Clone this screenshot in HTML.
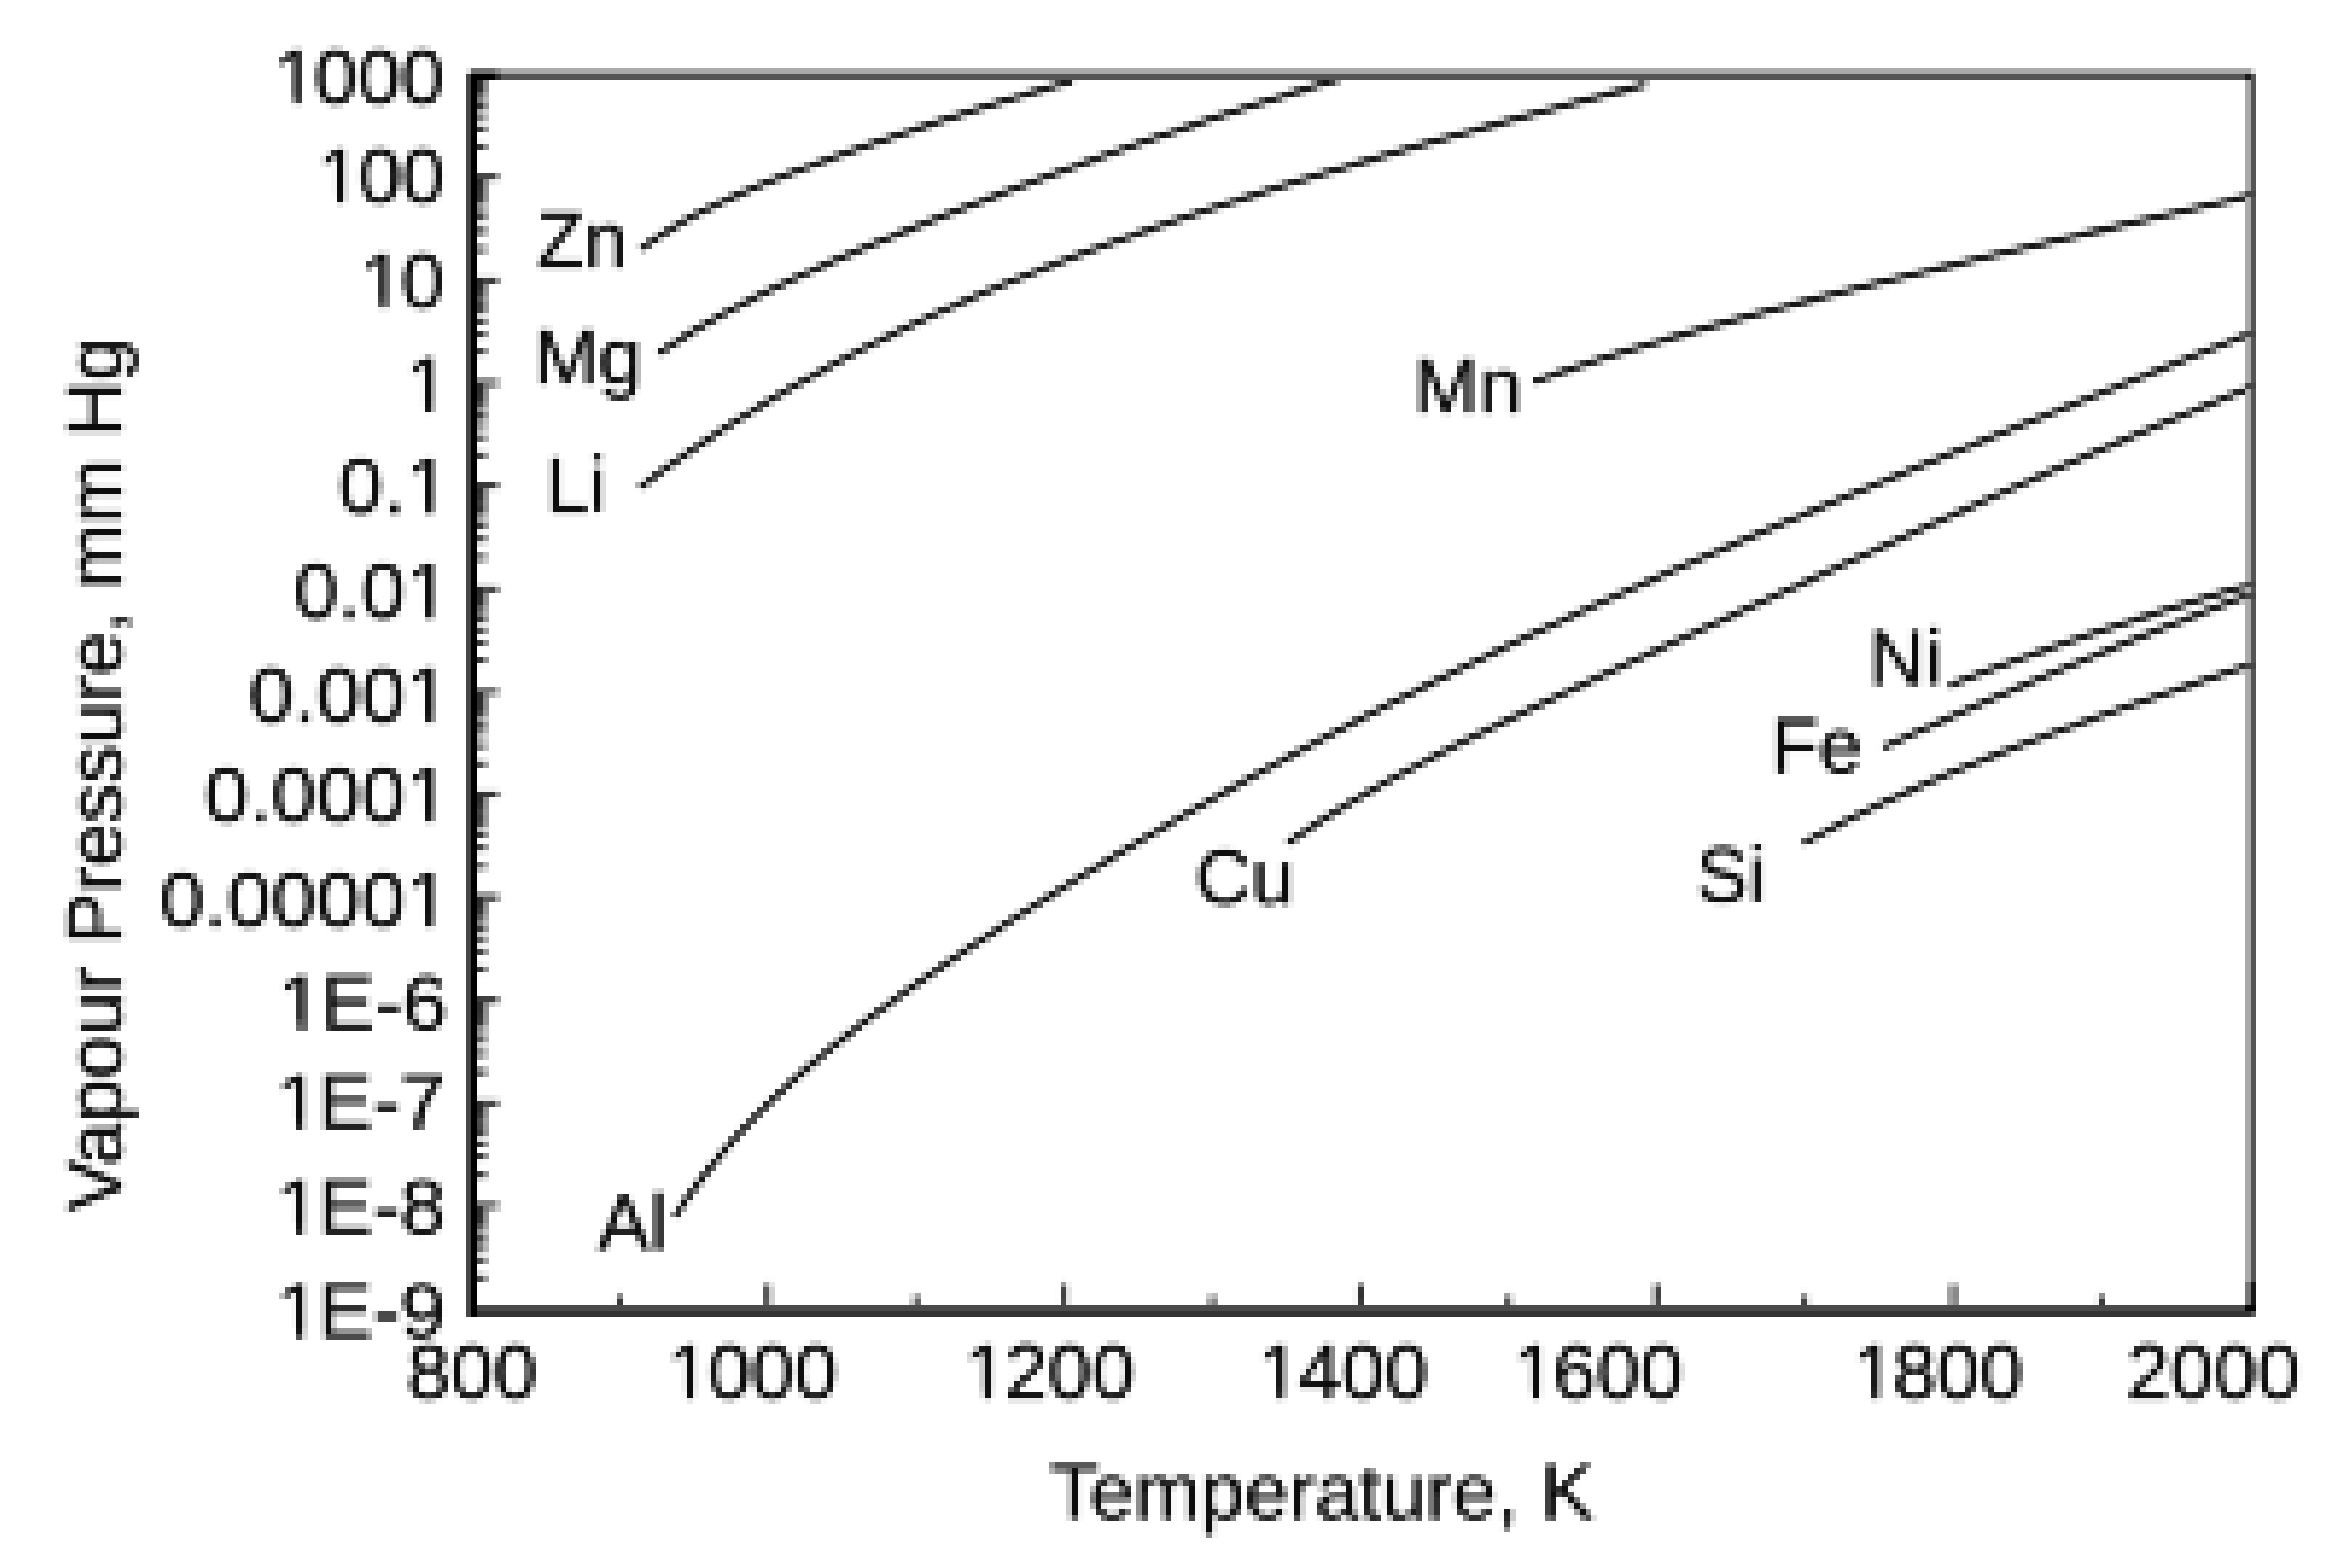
<!DOCTYPE html>
<html><head><meta charset="utf-8"><title>Vapour pressure chart</title>
<style>html,body{margin:0;padding:0;background:#fff}svg{display:block}</style></head>
<body>
<svg width="2332" height="1568" viewBox="0 0 2332 1568">
<defs><clipPath id="c1s"><path clip-rule="evenodd" d="M-2000,-400H2000V400H-2000ZM3.80,-8.56H19.79V1.90H3.80ZM26.73,-8.56H41.85V1.90H26.73Z"/></clipPath><clipPath id="c1e"><path clip-rule="evenodd" d="M-2000,-400H2000V400H-2000ZM-39.58,-8.56H-23.60V1.90H-39.58ZM-16.66,-8.56H-1.53V1.90H-16.66Z"/></clipPath></defs>
<defs><filter id="soft" x="-24" y="-13" width="2364" height="1589" filterUnits="userSpaceOnUse" color-interpolation-filters="sRGB"><feGaussianBlur in="SourceGraphic" stdDeviation="1.65" result="b"/><feOffset in="b" dx="2" dy="2" result="bo"/><feFlood x="-24" y="-13" width="1" height="35" flood-color="rgb(213,0,0)" result="c0"/><feFlood x="-24" y="-13" width="35" height="1" flood-color="rgb(0,213,0)" result="r0"/><feFlood x="-23" y="-13" width="1" height="35" flood-color="rgb(192,0,0)" result="c1"/><feFlood x="-24" y="-12" width="35" height="1" flood-color="rgb(0,192,0)" result="r1"/><feFlood x="-22" y="-13" width="1" height="35" flood-color="rgb(171,0,0)" result="c2"/><feFlood x="-24" y="-11" width="35" height="1" flood-color="rgb(0,171,0)" result="r2"/><feFlood x="-21" y="-13" width="1" height="35" flood-color="rgb(149,0,0)" result="c3"/><feFlood x="-24" y="-10" width="35" height="1" flood-color="rgb(0,149,0)" result="r3"/><feFlood x="-20" y="-13" width="1" height="35" flood-color="rgb(128,0,0)" result="c4"/><feFlood x="-24" y="-9" width="35" height="1" flood-color="rgb(0,128,0)" result="r4"/><feFlood x="-19" y="-13" width="1" height="35" flood-color="rgb(234,0,0)" result="c5"/><feFlood x="-24" y="-8" width="35" height="1" flood-color="rgb(0,234,0)" result="r5"/><feFlood x="-18" y="-13" width="1" height="35" flood-color="rgb(213,0,0)" result="c6"/><feFlood x="-24" y="-7" width="35" height="1" flood-color="rgb(0,213,0)" result="r6"/><feFlood x="-17" y="-13" width="1" height="35" flood-color="rgb(192,0,0)" result="c7"/><feFlood x="-24" y="-6" width="35" height="1" flood-color="rgb(0,192,0)" result="r7"/><feFlood x="-16" y="-13" width="1" height="35" flood-color="rgb(171,0,0)" result="c8"/><feFlood x="-24" y="-5" width="35" height="1" flood-color="rgb(0,171,0)" result="r8"/><feFlood x="-15" y="-13" width="1" height="35" flood-color="rgb(149,0,0)" result="c9"/><feFlood x="-24" y="-4" width="35" height="1" flood-color="rgb(0,149,0)" result="r9"/><feFlood x="-14" y="-13" width="1" height="35" flood-color="rgb(128,0,0)" result="c10"/><feFlood x="-24" y="-3" width="35" height="1" flood-color="rgb(0,128,0)" result="r10"/><feFlood x="-13" y="-13" width="1" height="35" flood-color="rgb(234,0,0)" result="c11"/><feFlood x="-24" y="-2" width="35" height="1" flood-color="rgb(0,234,0)" result="r11"/><feFlood x="-12" y="-13" width="1" height="35" flood-color="rgb(213,0,0)" result="c12"/><feFlood x="-24" y="-1" width="35" height="1" flood-color="rgb(0,213,0)" result="r12"/><feFlood x="-11" y="-13" width="1" height="35" flood-color="rgb(192,0,0)" result="c13"/><feFlood x="-24" y="0" width="35" height="1" flood-color="rgb(0,192,0)" result="r13"/><feFlood x="-10" y="-13" width="1" height="35" flood-color="rgb(171,0,0)" result="c14"/><feFlood x="-24" y="1" width="35" height="1" flood-color="rgb(0,171,0)" result="r14"/><feFlood x="-9" y="-13" width="1" height="35" flood-color="rgb(149,0,0)" result="c15"/><feFlood x="-24" y="2" width="35" height="1" flood-color="rgb(0,149,0)" result="r15"/><feFlood x="-8" y="-13" width="1" height="35" flood-color="rgb(128,0,0)" result="c16"/><feFlood x="-24" y="3" width="35" height="1" flood-color="rgb(0,128,0)" result="r16"/><feFlood x="-7" y="-13" width="1" height="35" flood-color="rgb(234,0,0)" result="c17"/><feFlood x="-24" y="4" width="35" height="1" flood-color="rgb(0,234,0)" result="r17"/><feFlood x="-6" y="-13" width="1" height="35" flood-color="rgb(213,0,0)" result="c18"/><feFlood x="-24" y="5" width="35" height="1" flood-color="rgb(0,213,0)" result="r18"/><feFlood x="-5" y="-13" width="1" height="35" flood-color="rgb(192,0,0)" result="c19"/><feFlood x="-24" y="6" width="35" height="1" flood-color="rgb(0,192,0)" result="r19"/><feFlood x="-4" y="-13" width="1" height="35" flood-color="rgb(171,0,0)" result="c20"/><feFlood x="-24" y="7" width="35" height="1" flood-color="rgb(0,171,0)" result="r20"/><feFlood x="-3" y="-13" width="1" height="35" flood-color="rgb(149,0,0)" result="c21"/><feFlood x="-24" y="8" width="35" height="1" flood-color="rgb(0,149,0)" result="r21"/><feFlood x="-2" y="-13" width="1" height="35" flood-color="rgb(128,0,0)" result="c22"/><feFlood x="-24" y="9" width="35" height="1" flood-color="rgb(0,128,0)" result="r22"/><feFlood x="-1" y="-13" width="1" height="35" flood-color="rgb(234,0,0)" result="c23"/><feFlood x="-24" y="10" width="35" height="1" flood-color="rgb(0,234,0)" result="r23"/><feFlood x="0" y="-13" width="1" height="35" flood-color="rgb(213,0,0)" result="c24"/><feFlood x="-24" y="11" width="35" height="1" flood-color="rgb(0,213,0)" result="r24"/><feFlood x="1" y="-13" width="1" height="35" flood-color="rgb(192,0,0)" result="c25"/><feFlood x="-24" y="12" width="35" height="1" flood-color="rgb(0,192,0)" result="r25"/><feFlood x="2" y="-13" width="1" height="35" flood-color="rgb(171,0,0)" result="c26"/><feFlood x="-24" y="13" width="35" height="1" flood-color="rgb(0,171,0)" result="r26"/><feFlood x="3" y="-13" width="1" height="35" flood-color="rgb(149,0,0)" result="c27"/><feFlood x="-24" y="14" width="35" height="1" flood-color="rgb(0,149,0)" result="r27"/><feFlood x="4" y="-13" width="1" height="35" flood-color="rgb(128,0,0)" result="c28"/><feFlood x="-24" y="15" width="35" height="1" flood-color="rgb(0,128,0)" result="r28"/><feFlood x="5" y="-13" width="1" height="35" flood-color="rgb(234,0,0)" result="c29"/><feFlood x="-24" y="16" width="35" height="1" flood-color="rgb(0,234,0)" result="r29"/><feFlood x="6" y="-13" width="1" height="35" flood-color="rgb(213,0,0)" result="c30"/><feFlood x="-24" y="17" width="35" height="1" flood-color="rgb(0,213,0)" result="r30"/><feFlood x="7" y="-13" width="1" height="35" flood-color="rgb(192,0,0)" result="c31"/><feFlood x="-24" y="18" width="35" height="1" flood-color="rgb(0,192,0)" result="r31"/><feFlood x="8" y="-13" width="1" height="35" flood-color="rgb(171,0,0)" result="c32"/><feFlood x="-24" y="19" width="35" height="1" flood-color="rgb(0,171,0)" result="r32"/><feFlood x="9" y="-13" width="1" height="35" flood-color="rgb(149,0,0)" result="c33"/><feFlood x="-24" y="20" width="35" height="1" flood-color="rgb(0,149,0)" result="r33"/><feFlood x="10" y="-13" width="1" height="35" flood-color="rgb(128,0,0)" result="c34"/><feFlood x="-24" y="21" width="35" height="1" flood-color="rgb(0,128,0)" result="r34"/><feMerge x="-24" y="-13" width="35" height="35" result="ct"><feMergeNode in="c0"/><feMergeNode in="c1"/><feMergeNode in="c2"/><feMergeNode in="c3"/><feMergeNode in="c4"/><feMergeNode in="c5"/><feMergeNode in="c6"/><feMergeNode in="c7"/><feMergeNode in="c8"/><feMergeNode in="c9"/><feMergeNode in="c10"/><feMergeNode in="c11"/><feMergeNode in="c12"/><feMergeNode in="c13"/><feMergeNode in="c14"/><feMergeNode in="c15"/><feMergeNode in="c16"/><feMergeNode in="c17"/><feMergeNode in="c18"/><feMergeNode in="c19"/><feMergeNode in="c20"/><feMergeNode in="c21"/><feMergeNode in="c22"/><feMergeNode in="c23"/><feMergeNode in="c24"/><feMergeNode in="c25"/><feMergeNode in="c26"/><feMergeNode in="c27"/><feMergeNode in="c28"/><feMergeNode in="c29"/><feMergeNode in="c30"/><feMergeNode in="c31"/><feMergeNode in="c32"/><feMergeNode in="c33"/><feMergeNode in="c34"/></feMerge><feMerge x="-24" y="-13" width="35" height="35" result="rt"><feMergeNode in="r0"/><feMergeNode in="r1"/><feMergeNode in="r2"/><feMergeNode in="r3"/><feMergeNode in="r4"/><feMergeNode in="r5"/><feMergeNode in="r6"/><feMergeNode in="r7"/><feMergeNode in="r8"/><feMergeNode in="r9"/><feMergeNode in="r10"/><feMergeNode in="r11"/><feMergeNode in="r12"/><feMergeNode in="r13"/><feMergeNode in="r14"/><feMergeNode in="r15"/><feMergeNode in="r16"/><feMergeNode in="r17"/><feMergeNode in="r18"/><feMergeNode in="r19"/><feMergeNode in="r20"/><feMergeNode in="r21"/><feMergeNode in="r22"/><feMergeNode in="r23"/><feMergeNode in="r24"/><feMergeNode in="r25"/><feMergeNode in="r26"/><feMergeNode in="r27"/><feMergeNode in="r28"/><feMergeNode in="r29"/><feMergeNode in="r30"/><feMergeNode in="r31"/><feMergeNode in="r32"/><feMergeNode in="r33"/><feMergeNode in="r34"/></feMerge><feComposite in="ct" in2="rt" operator="arithmetic" k1="0" k2="1" k3="1" k4="0" x="-24" y="-13" width="35" height="35" result="t"/><feTile in="t" result="map"/><feDisplacementMap in="bo" in2="map" scale="12" xChannelSelector="R" yChannelSelector="G"/></filter></defs>
<g filter="url(#soft)">
<rect width="100%" height="100%" fill="#fff"/>
<g id="plot">
<rect x="477.0" y="143.9" width="6" height="6" fill="#2a2a2a"/>
<rect x="483.0" y="143.9" width="6" height="6" fill="#8a8a8a"/>
<rect x="477.0" y="125.8" width="6" height="6" fill="#2a2a2a"/>
<rect x="483.0" y="125.8" width="6" height="6" fill="#8a8a8a"/>
<rect x="477.0" y="112.9" width="6" height="6" fill="#2a2a2a"/>
<rect x="483.0" y="112.9" width="6" height="6" fill="#8a8a8a"/>
<rect x="477.0" y="103.0" width="6" height="6" fill="#2a2a2a"/>
<rect x="483.0" y="103.0" width="6" height="6" fill="#8a8a8a"/>
<rect x="477.0" y="94.8" width="6" height="6" fill="#2a2a2a"/>
<rect x="483.0" y="94.8" width="6" height="6" fill="#8a8a8a"/>
<rect x="477.0" y="87.9" width="6" height="6" fill="#2a2a2a"/>
<rect x="483.0" y="87.9" width="6" height="6" fill="#8a8a8a"/>
<rect x="477.0" y="82.0" width="6" height="6" fill="#2a2a2a"/>
<rect x="483.0" y="82.0" width="6" height="6" fill="#8a8a8a"/>
<rect x="477.0" y="76.7" width="6" height="6" fill="#2a2a2a"/>
<rect x="483.0" y="76.7" width="6" height="6" fill="#8a8a8a"/>
<rect x="477.0" y="174.8" width="18" height="6" fill="#2a2a2a"/>
<rect x="495.0" y="174.8" width="6" height="6" fill="#8a8a8a"/>
<rect x="477.0" y="246.7" width="6" height="6" fill="#2a2a2a"/>
<rect x="483.0" y="246.7" width="6" height="6" fill="#8a8a8a"/>
<rect x="477.0" y="228.6" width="6" height="6" fill="#2a2a2a"/>
<rect x="483.0" y="228.6" width="6" height="6" fill="#8a8a8a"/>
<rect x="477.0" y="215.8" width="6" height="6" fill="#2a2a2a"/>
<rect x="483.0" y="215.8" width="6" height="6" fill="#8a8a8a"/>
<rect x="477.0" y="205.8" width="6" height="6" fill="#2a2a2a"/>
<rect x="483.0" y="205.8" width="6" height="6" fill="#8a8a8a"/>
<rect x="477.0" y="197.6" width="6" height="6" fill="#2a2a2a"/>
<rect x="483.0" y="197.6" width="6" height="6" fill="#8a8a8a"/>
<rect x="477.0" y="190.8" width="6" height="6" fill="#2a2a2a"/>
<rect x="483.0" y="190.8" width="6" height="6" fill="#8a8a8a"/>
<rect x="477.0" y="184.8" width="6" height="6" fill="#2a2a2a"/>
<rect x="483.0" y="184.8" width="6" height="6" fill="#8a8a8a"/>
<rect x="477.0" y="179.5" width="6" height="6" fill="#2a2a2a"/>
<rect x="483.0" y="179.5" width="6" height="6" fill="#8a8a8a"/>
<rect x="477.0" y="277.7" width="18" height="6" fill="#2a2a2a"/>
<rect x="495.0" y="277.7" width="6" height="6" fill="#8a8a8a"/>
<rect x="477.0" y="349.5" width="6" height="6" fill="#2a2a2a"/>
<rect x="483.0" y="349.5" width="6" height="6" fill="#8a8a8a"/>
<rect x="477.0" y="331.4" width="6" height="6" fill="#2a2a2a"/>
<rect x="483.0" y="331.4" width="6" height="6" fill="#8a8a8a"/>
<rect x="477.0" y="318.6" width="6" height="6" fill="#2a2a2a"/>
<rect x="483.0" y="318.6" width="6" height="6" fill="#8a8a8a"/>
<rect x="477.0" y="308.6" width="6" height="6" fill="#2a2a2a"/>
<rect x="483.0" y="308.6" width="6" height="6" fill="#8a8a8a"/>
<rect x="477.0" y="300.5" width="6" height="6" fill="#2a2a2a"/>
<rect x="483.0" y="300.5" width="6" height="6" fill="#8a8a8a"/>
<rect x="477.0" y="293.6" width="6" height="6" fill="#2a2a2a"/>
<rect x="483.0" y="293.6" width="6" height="6" fill="#8a8a8a"/>
<rect x="477.0" y="287.6" width="6" height="6" fill="#2a2a2a"/>
<rect x="483.0" y="287.6" width="6" height="6" fill="#8a8a8a"/>
<rect x="477.0" y="282.4" width="6" height="6" fill="#2a2a2a"/>
<rect x="483.0" y="282.4" width="6" height="6" fill="#8a8a8a"/>
<rect x="477.0" y="380.5" width="18" height="6" fill="#2a2a2a"/>
<rect x="495.0" y="380.5" width="6" height="6" fill="#8a8a8a"/>
<rect x="477.0" y="452.4" width="6" height="6" fill="#2a2a2a"/>
<rect x="483.0" y="452.4" width="6" height="6" fill="#8a8a8a"/>
<rect x="477.0" y="434.3" width="6" height="6" fill="#2a2a2a"/>
<rect x="483.0" y="434.3" width="6" height="6" fill="#8a8a8a"/>
<rect x="477.0" y="421.4" width="6" height="6" fill="#2a2a2a"/>
<rect x="483.0" y="421.4" width="6" height="6" fill="#8a8a8a"/>
<rect x="477.0" y="411.5" width="6" height="6" fill="#2a2a2a"/>
<rect x="483.0" y="411.5" width="6" height="6" fill="#8a8a8a"/>
<rect x="477.0" y="403.3" width="6" height="6" fill="#2a2a2a"/>
<rect x="483.0" y="403.3" width="6" height="6" fill="#8a8a8a"/>
<rect x="477.0" y="396.4" width="6" height="6" fill="#2a2a2a"/>
<rect x="483.0" y="396.4" width="6" height="6" fill="#8a8a8a"/>
<rect x="477.0" y="390.5" width="6" height="6" fill="#2a2a2a"/>
<rect x="483.0" y="390.5" width="6" height="6" fill="#8a8a8a"/>
<rect x="477.0" y="385.2" width="6" height="6" fill="#2a2a2a"/>
<rect x="483.0" y="385.2" width="6" height="6" fill="#8a8a8a"/>
<rect x="477.0" y="483.3" width="18" height="6" fill="#2a2a2a"/>
<rect x="495.0" y="483.3" width="6" height="6" fill="#8a8a8a"/>
<rect x="477.0" y="555.2" width="6" height="6" fill="#2a2a2a"/>
<rect x="483.0" y="555.2" width="6" height="6" fill="#8a8a8a"/>
<rect x="477.0" y="537.1" width="6" height="6" fill="#2a2a2a"/>
<rect x="483.0" y="537.1" width="6" height="6" fill="#8a8a8a"/>
<rect x="477.0" y="524.3" width="6" height="6" fill="#2a2a2a"/>
<rect x="483.0" y="524.3" width="6" height="6" fill="#8a8a8a"/>
<rect x="477.0" y="514.3" width="6" height="6" fill="#2a2a2a"/>
<rect x="483.0" y="514.3" width="6" height="6" fill="#8a8a8a"/>
<rect x="477.0" y="506.1" width="6" height="6" fill="#2a2a2a"/>
<rect x="483.0" y="506.1" width="6" height="6" fill="#8a8a8a"/>
<rect x="477.0" y="499.3" width="6" height="6" fill="#2a2a2a"/>
<rect x="483.0" y="499.3" width="6" height="6" fill="#8a8a8a"/>
<rect x="477.0" y="493.3" width="6" height="6" fill="#2a2a2a"/>
<rect x="483.0" y="493.3" width="6" height="6" fill="#8a8a8a"/>
<rect x="477.0" y="488.0" width="6" height="6" fill="#2a2a2a"/>
<rect x="483.0" y="488.0" width="6" height="6" fill="#8a8a8a"/>
<rect x="477.0" y="586.2" width="18" height="6" fill="#2a2a2a"/>
<rect x="495.0" y="586.2" width="6" height="6" fill="#8a8a8a"/>
<rect x="477.0" y="658.0" width="6" height="6" fill="#2a2a2a"/>
<rect x="483.0" y="658.0" width="6" height="6" fill="#8a8a8a"/>
<rect x="477.0" y="639.9" width="6" height="6" fill="#2a2a2a"/>
<rect x="483.0" y="639.9" width="6" height="6" fill="#8a8a8a"/>
<rect x="477.0" y="627.1" width="6" height="6" fill="#2a2a2a"/>
<rect x="483.0" y="627.1" width="6" height="6" fill="#8a8a8a"/>
<rect x="477.0" y="617.1" width="6" height="6" fill="#2a2a2a"/>
<rect x="483.0" y="617.1" width="6" height="6" fill="#8a8a8a"/>
<rect x="477.0" y="609.0" width="6" height="6" fill="#2a2a2a"/>
<rect x="483.0" y="609.0" width="6" height="6" fill="#8a8a8a"/>
<rect x="477.0" y="602.1" width="6" height="6" fill="#2a2a2a"/>
<rect x="483.0" y="602.1" width="6" height="6" fill="#8a8a8a"/>
<rect x="477.0" y="596.1" width="6" height="6" fill="#2a2a2a"/>
<rect x="483.0" y="596.1" width="6" height="6" fill="#8a8a8a"/>
<rect x="477.0" y="590.9" width="6" height="6" fill="#2a2a2a"/>
<rect x="483.0" y="590.9" width="6" height="6" fill="#8a8a8a"/>
<rect x="477.0" y="689.0" width="18" height="6" fill="#2a2a2a"/>
<rect x="495.0" y="689.0" width="6" height="6" fill="#8a8a8a"/>
<rect x="477.0" y="760.9" width="6" height="6" fill="#2a2a2a"/>
<rect x="483.0" y="760.9" width="6" height="6" fill="#8a8a8a"/>
<rect x="477.0" y="742.8" width="6" height="6" fill="#2a2a2a"/>
<rect x="483.0" y="742.8" width="6" height="6" fill="#8a8a8a"/>
<rect x="477.0" y="729.9" width="6" height="6" fill="#2a2a2a"/>
<rect x="483.0" y="729.9" width="6" height="6" fill="#8a8a8a"/>
<rect x="477.0" y="720.0" width="6" height="6" fill="#2a2a2a"/>
<rect x="483.0" y="720.0" width="6" height="6" fill="#8a8a8a"/>
<rect x="477.0" y="711.8" width="6" height="6" fill="#2a2a2a"/>
<rect x="483.0" y="711.8" width="6" height="6" fill="#8a8a8a"/>
<rect x="477.0" y="704.9" width="6" height="6" fill="#2a2a2a"/>
<rect x="483.0" y="704.9" width="6" height="6" fill="#8a8a8a"/>
<rect x="477.0" y="699.0" width="6" height="6" fill="#2a2a2a"/>
<rect x="483.0" y="699.0" width="6" height="6" fill="#8a8a8a"/>
<rect x="477.0" y="693.7" width="6" height="6" fill="#2a2a2a"/>
<rect x="483.0" y="693.7" width="6" height="6" fill="#8a8a8a"/>
<rect x="477.0" y="791.8" width="18" height="6" fill="#2a2a2a"/>
<rect x="495.0" y="791.8" width="6" height="6" fill="#8a8a8a"/>
<rect x="477.0" y="863.7" width="6" height="6" fill="#2a2a2a"/>
<rect x="483.0" y="863.7" width="6" height="6" fill="#8a8a8a"/>
<rect x="477.0" y="845.6" width="6" height="6" fill="#2a2a2a"/>
<rect x="483.0" y="845.6" width="6" height="6" fill="#8a8a8a"/>
<rect x="477.0" y="832.8" width="6" height="6" fill="#2a2a2a"/>
<rect x="483.0" y="832.8" width="6" height="6" fill="#8a8a8a"/>
<rect x="477.0" y="822.8" width="6" height="6" fill="#2a2a2a"/>
<rect x="483.0" y="822.8" width="6" height="6" fill="#8a8a8a"/>
<rect x="477.0" y="814.6" width="6" height="6" fill="#2a2a2a"/>
<rect x="483.0" y="814.6" width="6" height="6" fill="#8a8a8a"/>
<rect x="477.0" y="807.8" width="6" height="6" fill="#2a2a2a"/>
<rect x="483.0" y="807.8" width="6" height="6" fill="#8a8a8a"/>
<rect x="477.0" y="801.8" width="6" height="6" fill="#2a2a2a"/>
<rect x="483.0" y="801.8" width="6" height="6" fill="#8a8a8a"/>
<rect x="477.0" y="796.5" width="6" height="6" fill="#2a2a2a"/>
<rect x="483.0" y="796.5" width="6" height="6" fill="#8a8a8a"/>
<rect x="477.0" y="894.7" width="18" height="6" fill="#2a2a2a"/>
<rect x="495.0" y="894.7" width="6" height="6" fill="#8a8a8a"/>
<rect x="477.0" y="966.5" width="6" height="6" fill="#2a2a2a"/>
<rect x="483.0" y="966.5" width="6" height="6" fill="#8a8a8a"/>
<rect x="477.0" y="948.4" width="6" height="6" fill="#2a2a2a"/>
<rect x="483.0" y="948.4" width="6" height="6" fill="#8a8a8a"/>
<rect x="477.0" y="935.6" width="6" height="6" fill="#2a2a2a"/>
<rect x="483.0" y="935.6" width="6" height="6" fill="#8a8a8a"/>
<rect x="477.0" y="925.6" width="6" height="6" fill="#2a2a2a"/>
<rect x="483.0" y="925.6" width="6" height="6" fill="#8a8a8a"/>
<rect x="477.0" y="917.5" width="6" height="6" fill="#2a2a2a"/>
<rect x="483.0" y="917.5" width="6" height="6" fill="#8a8a8a"/>
<rect x="477.0" y="910.6" width="6" height="6" fill="#2a2a2a"/>
<rect x="483.0" y="910.6" width="6" height="6" fill="#8a8a8a"/>
<rect x="477.0" y="904.6" width="6" height="6" fill="#2a2a2a"/>
<rect x="483.0" y="904.6" width="6" height="6" fill="#8a8a8a"/>
<rect x="477.0" y="899.4" width="6" height="6" fill="#2a2a2a"/>
<rect x="483.0" y="899.4" width="6" height="6" fill="#8a8a8a"/>
<rect x="477.0" y="997.5" width="18" height="6" fill="#2a2a2a"/>
<rect x="495.0" y="997.5" width="6" height="6" fill="#8a8a8a"/>
<rect x="477.0" y="1069.4" width="6" height="6" fill="#2a2a2a"/>
<rect x="483.0" y="1069.4" width="6" height="6" fill="#8a8a8a"/>
<rect x="477.0" y="1051.3" width="6" height="6" fill="#2a2a2a"/>
<rect x="483.0" y="1051.3" width="6" height="6" fill="#8a8a8a"/>
<rect x="477.0" y="1038.4" width="6" height="6" fill="#2a2a2a"/>
<rect x="483.0" y="1038.4" width="6" height="6" fill="#8a8a8a"/>
<rect x="477.0" y="1028.5" width="6" height="6" fill="#2a2a2a"/>
<rect x="483.0" y="1028.5" width="6" height="6" fill="#8a8a8a"/>
<rect x="477.0" y="1020.3" width="6" height="6" fill="#2a2a2a"/>
<rect x="483.0" y="1020.3" width="6" height="6" fill="#8a8a8a"/>
<rect x="477.0" y="1013.4" width="6" height="6" fill="#2a2a2a"/>
<rect x="483.0" y="1013.4" width="6" height="6" fill="#8a8a8a"/>
<rect x="477.0" y="1007.5" width="6" height="6" fill="#2a2a2a"/>
<rect x="483.0" y="1007.5" width="6" height="6" fill="#8a8a8a"/>
<rect x="477.0" y="1002.2" width="6" height="6" fill="#2a2a2a"/>
<rect x="483.0" y="1002.2" width="6" height="6" fill="#8a8a8a"/>
<rect x="477.0" y="1100.3" width="18" height="6" fill="#2a2a2a"/>
<rect x="495.0" y="1100.3" width="6" height="6" fill="#8a8a8a"/>
<rect x="477.0" y="1172.2" width="6" height="6" fill="#2a2a2a"/>
<rect x="483.0" y="1172.2" width="6" height="6" fill="#8a8a8a"/>
<rect x="477.0" y="1154.1" width="6" height="6" fill="#2a2a2a"/>
<rect x="483.0" y="1154.1" width="6" height="6" fill="#8a8a8a"/>
<rect x="477.0" y="1141.3" width="6" height="6" fill="#2a2a2a"/>
<rect x="483.0" y="1141.3" width="6" height="6" fill="#8a8a8a"/>
<rect x="477.0" y="1131.3" width="6" height="6" fill="#2a2a2a"/>
<rect x="483.0" y="1131.3" width="6" height="6" fill="#8a8a8a"/>
<rect x="477.0" y="1123.1" width="6" height="6" fill="#2a2a2a"/>
<rect x="483.0" y="1123.1" width="6" height="6" fill="#8a8a8a"/>
<rect x="477.0" y="1116.3" width="6" height="6" fill="#2a2a2a"/>
<rect x="483.0" y="1116.3" width="6" height="6" fill="#8a8a8a"/>
<rect x="477.0" y="1110.3" width="6" height="6" fill="#2a2a2a"/>
<rect x="483.0" y="1110.3" width="6" height="6" fill="#8a8a8a"/>
<rect x="477.0" y="1105.0" width="6" height="6" fill="#2a2a2a"/>
<rect x="483.0" y="1105.0" width="6" height="6" fill="#8a8a8a"/>
<rect x="477.0" y="1203.2" width="18" height="6" fill="#2a2a2a"/>
<rect x="495.0" y="1203.2" width="6" height="6" fill="#8a8a8a"/>
<rect x="477.0" y="1275.0" width="6" height="6" fill="#2a2a2a"/>
<rect x="483.0" y="1275.0" width="6" height="6" fill="#8a8a8a"/>
<rect x="477.0" y="1256.9" width="6" height="6" fill="#2a2a2a"/>
<rect x="483.0" y="1256.9" width="6" height="6" fill="#8a8a8a"/>
<rect x="477.0" y="1244.1" width="6" height="6" fill="#2a2a2a"/>
<rect x="483.0" y="1244.1" width="6" height="6" fill="#8a8a8a"/>
<rect x="477.0" y="1234.1" width="6" height="6" fill="#2a2a2a"/>
<rect x="483.0" y="1234.1" width="6" height="6" fill="#8a8a8a"/>
<rect x="477.0" y="1226.0" width="6" height="6" fill="#2a2a2a"/>
<rect x="483.0" y="1226.0" width="6" height="6" fill="#8a8a8a"/>
<rect x="477.0" y="1219.1" width="6" height="6" fill="#2a2a2a"/>
<rect x="483.0" y="1219.1" width="6" height="6" fill="#8a8a8a"/>
<rect x="477.0" y="1213.1" width="6" height="6" fill="#2a2a2a"/>
<rect x="483.0" y="1213.1" width="6" height="6" fill="#8a8a8a"/>
<rect x="477.0" y="1207.9" width="6" height="6" fill="#2a2a2a"/>
<rect x="483.0" y="1207.9" width="6" height="6" fill="#8a8a8a"/>
<rect x="617.2" y="1299.0" width="6" height="6" fill="#2a2a2a"/>
<rect x="617.2" y="1293.0" width="6" height="6" fill="#8a8a8a"/>
<rect x="765.3" y="1288.0" width="6" height="17" fill="#2a2a2a"/>
<rect x="765.3" y="1282.0" width="6" height="6" fill="#8a8a8a"/>
<rect x="913.5" y="1299.0" width="6" height="6" fill="#2a2a2a"/>
<rect x="913.5" y="1293.0" width="6" height="6" fill="#8a8a8a"/>
<rect x="1061.7" y="1288.0" width="6" height="17" fill="#2a2a2a"/>
<rect x="1061.7" y="1282.0" width="6" height="6" fill="#8a8a8a"/>
<rect x="1209.8" y="1299.0" width="6" height="6" fill="#2a2a2a"/>
<rect x="1209.8" y="1293.0" width="6" height="6" fill="#8a8a8a"/>
<rect x="1358.0" y="1288.0" width="6" height="17" fill="#2a2a2a"/>
<rect x="1358.0" y="1282.0" width="6" height="6" fill="#8a8a8a"/>
<rect x="1506.2" y="1299.0" width="6" height="6" fill="#2a2a2a"/>
<rect x="1506.2" y="1293.0" width="6" height="6" fill="#8a8a8a"/>
<rect x="1654.3" y="1288.0" width="6" height="17" fill="#2a2a2a"/>
<rect x="1654.3" y="1282.0" width="6" height="6" fill="#8a8a8a"/>
<rect x="1802.5" y="1299.0" width="6" height="6" fill="#2a2a2a"/>
<rect x="1802.5" y="1293.0" width="6" height="6" fill="#8a8a8a"/>
<rect x="1950.7" y="1288.0" width="6" height="17" fill="#2a2a2a"/>
<rect x="1950.7" y="1282.0" width="6" height="6" fill="#8a8a8a"/>
<rect x="2098.8" y="1299.0" width="6" height="6" fill="#2a2a2a"/>
<rect x="2098.8" y="1293.0" width="6" height="6" fill="#8a8a8a"/>
<g fill="none" stroke="#101010" stroke-width="6.3" stroke-linejoin="round">
<path d="M641.0,249.6 L660.1,236.4 L680.0,224.2 L700.4,213.1 L721.3,202.8 L742.5,193.3 L764.0,184.3 L785.6,175.8 L807.4,167.6 L829.3,159.6 L851.2,151.8 L873.2,144.2 L895.2,136.7 L917.3,129.3 L939.4,122.0 L961.5,114.9 L983.7,107.8 L1006.0,100.9 L1028.2,94.2 L1050.6,87.7 L1073.0,81.5"/>
<path d="M659.0,353.9 L678.2,341.3 L697.8,329.2 L717.8,317.8 L738.0,306.9 L758.5,296.4 L779.2,286.4 L800.1,276.7 L821.1,267.2 L842.2,258.0 L863.3,249.0 L884.6,240.2 L905.9,231.5 L927.3,223.0 L948.7,214.5 L970.1,206.2 L991.6,198.0 L1013.1,189.8 L1034.7,181.8 L1056.3,173.8 L1077.9,165.9 L1099.5,158.1 L1121.2,150.4 L1142.9,142.8 L1164.7,135.3 L1186.5,127.9 L1208.3,120.6 L1230.1,113.4 L1252.0,106.3 L1274.0,99.4 L1295.9,92.6 L1318.0,85.8 L1340.0,79.3"/>
<path d="M640.0,488.0 L658.3,474.5 L676.9,461.3 L695.6,448.4 L714.5,435.7 L733.6,423.4 L752.9,411.3 L772.3,399.5 L792.0,388.1 L811.8,376.9 L831.7,365.9 L851.8,355.3 L872.1,345.0 L892.5,334.9 L913.0,325.1 L933.6,315.5 L954.4,306.2 L975.2,297.1 L996.2,288.2 L1017.2,279.6 L1038.4,271.1 L1059.6,262.9 L1080.8,254.8 L1102.2,246.9 L1123.6,239.2 L1145.0,231.6 L1166.5,224.2 L1188.1,216.9 L1209.7,209.8 L1231.3,202.8 L1253.0,195.9 L1274.7,189.1 L1296.4,182.3 L1318.2,175.7 L1340.0,169.2 L1361.8,162.8 L1383.6,156.4 L1405.5,150.1 L1427.4,143.9 L1449.3,137.8 L1471.2,131.7 L1493.1,125.6 L1515.1,119.6 L1537.0,113.7 L1559.0,107.8 L1581.0,101.9 L1603.0,96.1 L1625.0,90.4 L1647.0,84.6"/>
<path d="M1534.0,382.2 L1555.9,374.6 L1577.9,367.2 L1600.0,360.1 L1622.1,353.1 L1644.3,346.4 L1666.5,339.8 L1688.8,333.4 L1711.1,327.1 L1733.5,320.9 L1755.9,314.9 L1778.3,309.0 L1800.7,303.1 L1823.2,297.4 L1845.7,291.7 L1868.2,286.1 L1890.7,280.5 L1913.2,275.0 L1935.8,269.6 L1958.3,264.2 L1980.9,258.8 L2003.5,253.5 L2026.1,248.2 L2048.6,242.9 L2071.2,237.6 L2093.8,232.4 L2116.4,227.1 L2139.0,221.9 L2161.6,216.7 L2184.2,211.5 L2206.8,206.3 L2229.4,201.1 L2252.0,195.9"/>
<path d="M675.0,1217.2 L687.5,1198.8 L700.7,1180.8 L714.4,1163.3 L728.8,1146.2 L743.7,1129.7 L759.1,1113.6 L775.0,1098.0 L791.4,1082.9 L808.1,1068.1 L825.1,1053.8 L842.5,1039.8 L860.0,1026.1 L877.8,1012.7 L895.8,999.5 L913.9,986.6 L932.2,973.8 L950.6,961.3 L969.1,948.8 L987.7,936.6 L1006.3,924.4 L1025.1,912.4 L1043.9,900.5 L1062.8,888.6 L1081.8,876.9 L1100.8,865.3 L1119.9,853.8 L1139.0,842.4 L1158.2,831.1 L1177.4,819.9 L1196.7,808.8 L1216.1,797.8 L1235.5,786.9 L1255.0,776.0 L1274.5,765.3 L1294.1,754.7 L1313.8,744.2 L1333.5,733.8 L1353.2,723.4 L1373.0,713.2 L1392.8,703.1 L1412.7,693.1 L1432.7,683.1 L1452.6,673.3 L1472.7,663.5 L1492.7,653.8 L1512.8,644.2 L1533.0,634.7 L1553.2,625.3 L1573.4,616.0 L1593.7,606.7 L1614.0,597.5 L1634.3,588.4 L1654.6,579.4 L1675.0,570.4 L1695.4,561.4 L1715.9,552.6 L1736.3,543.8 L1756.8,535.0 L1777.3,526.3 L1797.9,517.6 L1818.4,509.0 L1839.0,500.4 L1859.5,491.9 L1880.1,483.4 L1900.7,474.9 L1921.3,466.4 L1942.0,458.0 L1962.6,449.6 L1983.2,441.2 L2003.9,432.9 L2024.6,424.5 L2045.2,416.2 L2065.9,407.9 L2086.6,399.6 L2107.2,391.3 L2127.9,383.0 L2148.6,374.7 L2169.3,366.5 L2190.0,358.2 L2210.6,349.9 L2231.3,341.6 L2252.0,333.3"/>
<path d="M1288.0,843.7 L1306.7,830.9 L1325.8,818.5 L1345.1,806.5 L1364.6,795.0 L1384.4,783.8 L1404.3,772.9 L1424.4,762.2 L1444.6,751.8 L1464.9,741.6 L1485.2,731.6 L1505.7,721.6 L1526.2,711.8 L1546.7,702.1 L1567.2,692.4 L1587.8,682.8 L1608.4,673.3 L1629.0,663.7 L1649.7,654.2 L1670.3,644.7 L1690.9,635.2 L1711.6,625.7 L1732.2,616.2 L1752.8,606.7 L1773.5,597.3 L1794.1,587.8 L1814.8,578.3 L1835.4,568.9 L1856.1,559.4 L1876.8,550.0 L1897.4,540.6 L1918.1,531.2 L1938.8,521.9 L1959.5,512.6 L1980.3,503.3 L2001.0,494.0 L2021.8,484.8 L2042.6,475.7 L2063.4,466.6 L2084.2,457.5 L2105.1,448.5 L2126.0,439.6 L2146.9,430.8 L2167.9,422.0 L2188.8,413.3 L2209.9,404.7 L2230.9,396.2 L2252.0,387.7"/>
<path d="M1950.0,685.7 L1972.9,676.9 L1995.8,668.3 L2018.8,659.9 L2041.9,651.7 L2065.0,643.6 L2088.2,635.7 L2111.5,627.9 L2134.8,620.4 L2158.1,612.9 L2181.5,605.7 L2205.0,598.6 L2228.5,591.6 L2252.0,584.8"/>
<path d="M1884.0,747.8 L1905.3,738.0 L1926.7,728.3 L1948.1,718.8 L1969.6,709.3 L1991.1,699.9 L2012.6,690.6 L2034.2,681.4 L2055.8,672.3 L2077.5,663.3 L2099.2,654.4 L2120.9,645.5 L2142.7,636.8 L2164.5,628.1 L2186.3,619.6 L2208.2,611.1 L2230.1,602.7 L2252.0,594.4"/>
<path d="M1804.0,843.8 L1825.2,832.3 L1846.7,821.2 L1868.4,810.5 L1890.2,800.2 L1912.2,790.3 L1934.4,780.6 L1956.6,771.2 L1979.0,762.1 L2001.4,753.3 L2024.0,744.6 L2046.6,736.1 L2069.3,727.8 L2092.0,719.6 L2114.8,711.6 L2137.6,703.7 L2160.4,695.8 L2183.3,688.0 L2206.2,680.3 L2229.1,672.6 L2252.0,665.0"/>
</g>
</g>
<g font-family="Liberation Sans, Arial, Helvetica, sans-serif" font-size="78" fill="#0c0c0c" stroke="#0c0c0c" stroke-width="0.8" stroke-linejoin="round">
<text id="yl0" transform="translate(274.0,104.2) scale(1.0000,1)" clip-path="url(#c1s)" dx="0 -3">1000</text>
<text id="yl1" transform="translate(318.0,203.2) scale(1.0000,1)" clip-path="url(#c1s)" dx="0 -3">100</text>
<text id="yl2" transform="translate(361.0,308.3) scale(1.0000,1)" clip-path="url(#c1s)" dx="0 -3">10</text>
<text id="yl3" transform="translate(406.0,412.4) scale(1.0000,1)" clip-path="url(#c1s)">1</text>
<text id="yl4" transform="translate(450.5,512.5) scale(1.0300,1)" text-anchor="end" clip-path="url(#c1e)">0.1</text>
<text id="yl5" transform="translate(450.5,617.9) scale(1.0300,1)" text-anchor="end" clip-path="url(#c1e)">0.01</text>
<text id="yl6" transform="translate(450.5,722.1) scale(1.0300,1)" text-anchor="end" clip-path="url(#c1e)">0.001</text>
<text id="yl7" transform="translate(450.5,821.5) scale(1.0300,1)" text-anchor="end" clip-path="url(#c1e)">0.0001</text>
<text id="yl8" transform="translate(450.5,927.3) scale(1.0300,1)" text-anchor="end" clip-path="url(#c1e)">0.00001</text>
<text id="yl9" transform="translate(278.1,1029.7) scale(1.0500,1)" clip-path="url(#c1s)" dx="0 -3">1E-6</text>
<text id="yl10" transform="translate(276.1,1128.7) scale(1.0500,1)" clip-path="url(#c1s)" dx="0 -3">1E-7</text>
<text id="yl11" transform="translate(276.1,1233.5) scale(1.0500,1)" clip-path="url(#c1s)" dx="0 -3">1E-8</text>
<text id="yl12" transform="translate(276.1,1337.5) scale(1.0500,1)" clip-path="url(#c1s)" dx="0 -3">1E-9</text>
<text id="xl0" transform="translate(407.4,1398.5) scale(1.0000,1)">800</text>
<text id="xl1" transform="translate(667.5,1398.5) scale(1.0000,1)" clip-path="url(#c1s)" dx="0 -3">1000</text>
<text id="xl2" transform="translate(964.5,1398.5) scale(1.0000,1)" clip-path="url(#c1s)" dx="0 -3">1200</text>
<text id="xl3" transform="translate(1258.0,1398.5) scale(1.0000,1)" clip-path="url(#c1s)" dx="0 -3">1400</text>
<text id="xl4" transform="translate(1513.2,1398.5) scale(1.0000,1)" clip-path="url(#c1s)" dx="0 -3">1600</text>
<text id="xl5" transform="translate(1853.0,1398.5) scale(1.0000,1)" clip-path="url(#c1s)" dx="0 -3">1800</text>
<text id="xl6" transform="translate(2127.0,1398.5) scale(1.0000,1)">2000</text>
<text id="cl0" transform="translate(536.9,267) scale(1.0000,1)">Zn</text>
<text id="cl1" transform="translate(534.1,383.5) scale(1.0000,1)">Mg</text>
<text id="cl2" transform="translate(546.0,511.8) scale(1.0000,1)">Li</text>
<text id="cl3" transform="translate(1414.0,412.7) scale(1.0000,1)">Mn</text>
<text id="cl4" transform="translate(1195.2,903.5) scale(1.0000,1)">Cu</text>
<text id="cl5" transform="translate(598.2,1250.3) scale(1.0000,1)">Al</text>
<text id="cl6" transform="translate(1869.0,685.4) scale(1.0000,1)">Ni</text>
<text id="cl7" transform="translate(1771.5,773.4) scale(1.0000,1)">Fe</text>
<text id="cl8" transform="translate(1696.7,901.7) scale(1.0000,1)">Si</text>
<text id="xt" transform="translate(1050.4,1518.7) scale(1.0200,1)">Temperature, K</text>
<text id="yt" transform="translate(121.5,1212.2) rotate(-90) scale(1.0000,1)">Vapour Pressure, mm Hg</text>
</g>
</g>
<rect x="471" y="68" width="1780" height="6" fill="#aaa"/>
<rect x="2251" y="68" width="5" height="6" fill="#e0e0e0"/>
<rect x="477" y="74" width="1779" height="6" fill="#555"/>
<rect x="2245" y="74" width="6" height="6" fill="#1c1c1c"/>
<rect x="2245" y="80" width="6" height="1225" fill="#aaa"/>
<rect x="2251" y="74" width="5" height="1231" fill="#555"/>
<rect x="2245" y="1282" width="6" height="23" fill="#777"/>
<rect x="2251" y="1282" width="5" height="23" fill="#181818"/>
<rect x="466" y="1305" width="1790" height="6" fill="#4a4a4a"/>
<rect x="466" y="1311" width="1790" height="6" fill="#333"/>
<rect x="2245" y="1305" width="11" height="6" fill="#060606"/>
<rect x="2251" y="1311" width="5" height="6" fill="#5a5a5a"/>
<rect x="466" y="74" width="5" height="1243" fill="#474747"/>
<rect x="471" y="74" width="6" height="1243" fill="#000"/>
<rect x="471" y="68" width="24" height="6" fill="#707070"/>
<rect x="495" y="68" width="6" height="6" fill="#8c8c8c"/>
<rect x="477" y="74" width="18" height="6" fill="#000"/>
<rect x="495" y="74" width="6" height="6" fill="#2e2e2e"/>
<rect x="466" y="68" width="5" height="6" fill="#e5e5e5"/>
<rect x="2245" y="191" width="11" height="6" fill="#474747"/>
<rect x="2245" y="331" width="11" height="6" fill="#474747"/>
<rect x="2245" y="383" width="11" height="6" fill="#474747"/>
<rect x="2245" y="582" width="11" height="5" fill="#474747"/>
<rect x="2245" y="593" width="11" height="6" fill="#474747"/>
<rect x="2245" y="663" width="11" height="6" fill="#474747"/>
</svg>
</body></html>
